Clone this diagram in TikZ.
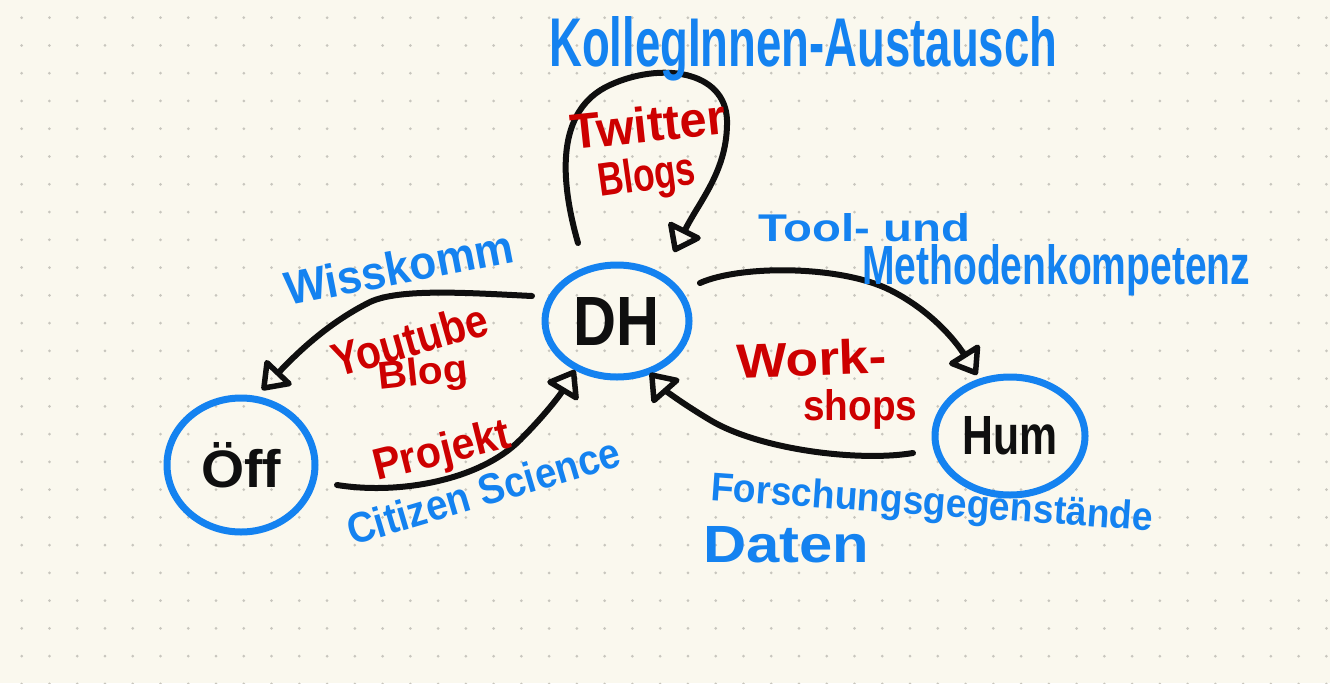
\documentclass[tikz,border=0pt]{standalone}
\usepackage{fontspec}
\setmainfont{Liberation Sans}
\usepackage{graphicx}
\usetikzlibrary{arrows.meta,shapes.geometric}
\definecolor{paper}{RGB}{250,248,238}
\definecolor{griddot}{RGB}{200,198,190}
\definecolor{pen}{RGB}{20,130,240}
\definecolor{ink}{RGB}{205,0,0}
\definecolor{marker}{RGB}{15,15,15}
\newcommand{\hw}[3]{\resizebox{#1pt}{#2pt}{\bfseries #3}}
\tikzset{
  bubble/.style={ellipse, draw=pen, line width=7pt, inner sep=0pt, text=marker},
  flow/.style={draw=marker, line width=6pt, line cap=round,
    -{Triangle[open, round, length=28pt, width=40pt, line width=5.5pt]}},
  bluetxt/.style={text=pen, inner sep=0pt, anchor=base west},
  redtxt/.style={text=ink, inner sep=0pt, anchor=base west}
}
\begin{document}
\begin{tikzpicture}[x=1pt,y=-1pt]
\fill[paper] (0,0) rectangle (1330,683);
\useasboundingbox (0,0) rectangle (1330,683);
\foreach \i in {0,...,47}{
  \foreach \j in {0,...,24}{
    \fill[griddot] ({21.7+27.76*\i},{17.7+27.76*\j}) circle (1.5);
  }
}
% nodes
\node[bubble, minimum width=144pt, minimum height=112pt] (DH) at (617,321) {\hw{86}{48}{DH}};
\node[bubble, minimum width=148pt, minimum height=134pt] (Off) at (241,465) {\hw{80}{45}{Öff}};
\node[bubble, minimum width=150pt, minimum height=118pt] (Hum) at (1010,436) {\hw{95}{38}{Hum}};
% arrow end points
\coordinate (loopS) at (578,243);
\coordinate (loopE) at (674,252);
\coordinate (wkS) at (532,296);
\coordinate (wkE) at (262,390);
\coordinate (prS) at (337,485);
\coordinate (prE) at (575,370);
\coordinate (dhS) at (700,283);
\coordinate (dhE) at (977,375);
\coordinate (huS) at (913,453);
\coordinate (huE) at (650,373);
% connectors
\draw[flow] (loopS) .. controls (560,180) and (555,110) .. (610,85)
  .. controls (660,62) and (725,70) .. (727,120)
  .. controls (728,170) and (700,200) .. (loopE);
\draw[flow] (wkS) .. controls (470,293) and (400,288) .. (370,302)
  .. controls (330,322) and (300,350) .. (wkE);
\draw[flow] (prS) .. controls (400,495) and (480,480) .. (520,440)
  .. controls (545,415) and (560,395) .. (prE);
\draw[flow] (dhS) .. controls (740,265) and (840,265) .. (890,290)
  .. controls (930,310) and (955,340) .. (dhE);
\draw[flow] (huS) .. controls (860,462) and (760,450) .. (710,420)
  .. controls (680,402) and (665,390) .. (huE);
% blue labels
\node[bluetxt] (kol) at (549,66) {\hw{508}{50}{KollegInnen-Austausch}};
\node[bluetxt] (tool1) at (758,241) {\hw{212}{28}{Tool- und}};
\node[bluetxt] (tool2) at (862,284) {\hw{388}{40}{Methodenkompetenz}};
\node[bluetxt, rotate=11] (wiss) at (288,306) {\hw{232}{34}{Wisskomm}};
\node[bluetxt, rotate=16.5] (cit) at (352,546) {\hw{283}{31}{Citizen Science}};
\node[bluetxt, rotate=-4] (fg) at (710,500) {\hw{443}{29}{Forschungsgegenstände}};
\node[bluetxt] (dat) at (703,562) {\hw{166}{36}{Daten}};
% red labels
\node[redtxt, rotate=6] (tw) at (572,150) {\hw{156}{36}{Twitter}};
\node[redtxt, rotate=8] (bl) at (600,197) {\hw{98}{34}{Blogs}};
\node[redtxt, rotate=16] (yt) at (337,378) {\hw{160}{34}{Youtube}};
\node[redtxt, rotate=6] (yb) at (379,390) {\hw{90}{28}{Blog}};
\node[redtxt, rotate=2] (wo) at (737,378) {\hw{150}{35}{Work-}};
\node[redtxt] (sh) at (803,420) {\hw{114}{31}{shops}};
\node[redtxt, rotate=14] (pj) at (377,481) {\hw{140}{32}{Projekt}};
\end{tikzpicture}
\end{document}
